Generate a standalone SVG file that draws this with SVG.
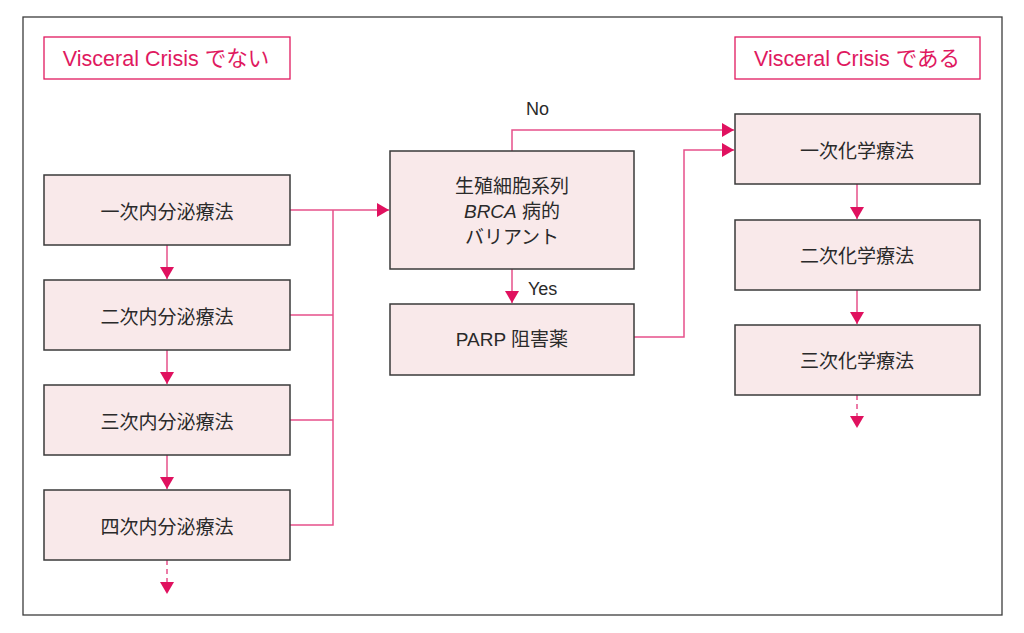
<svg xmlns="http://www.w3.org/2000/svg" width="1024" height="633" viewBox="0 0 1024 633">
<defs>
<style>
.frame{fill:#fff;stroke:#3c3c3c;stroke-width:1.3}
.hdr{fill:#fff;stroke:#e0195f;stroke-width:1.3}
.hdrt{fill:#e0195f;font-family:"Liberation Sans","Noto Sans CJK JP",sans-serif;font-size:21.5px;text-anchor:middle}
.box{fill:#f9e9ea;stroke:#3a3a3a;stroke-width:1.5}
.t{fill:#2a2a2a;font-family:"Liberation Sans","Noto Sans CJK JP",sans-serif;font-size:19px;text-anchor:middle}
.lbl{fill:#2a2a2a;font-family:"Liberation Sans","Noto Sans CJK JP",sans-serif;font-size:18px}
.c{fill:none;stroke:#e6508a;stroke-width:1.5}
.d{fill:none;stroke:#e6508a;stroke-width:1.5;stroke-dasharray:5,4}
.ah{fill:#e0115f}
</style>
<marker id="arr" viewBox="0 0 12 14" refX="12" refY="7" markerWidth="12" markerHeight="14" markerUnits="userSpaceOnUse" orient="auto">
<path d="M0,0 L12,7 L0,14 Z" class="ah"/>
</marker>
</defs>
<rect x="0" y="0" width="1024" height="633" fill="#fff"/>
<rect class="frame" x="23" y="17" width="979" height="598"/>

<g id="hdr-left"><rect class="hdr" x="44" y="37" width="246" height="42"/><text class="hdrt" x="166" y="66">Visceral Crisis でない</text></g>
<g id="hdr-right"><rect class="hdr" x="735" y="37" width="245" height="42"/><text class="hdrt" x="857" y="66">Visceral Crisis である</text></g>

<g id="connectors">
<path class="c" d="M167,245 V279" marker-end="url(#arr)"/>
<path class="c" d="M167,350 V384" marker-end="url(#arr)"/>
<path class="c" d="M167,455 V489" marker-end="url(#arr)"/>
<path class="d" d="M167,560 V582"/>
<path class="ah" d="M160,582 L174,582 L167,594 Z"/>
<path class="c" d="M290,210 H389" marker-end="url(#arr)"/>
<path class="c" d="M290,315 H333 M290,420 H333 M290,525 H333 V210"/>
<path class="c" d="M512,151 V130 H734" marker-end="url(#arr)"/>
<path class="c" d="M512,269 V303" marker-end="url(#arr)"/>
<path class="c" d="M634,337 H684 V150 H734" marker-end="url(#arr)"/>
<path class="c" d="M857,184 V219" marker-end="url(#arr)"/>
<path class="c" d="M857,290 V324" marker-end="url(#arr)"/>
<path class="d" d="M857,395 V416"/>
<path class="ah" d="M850,416 L864,416 L857,428 Z"/>
<text class="lbl" x="526" y="115">No</text>
<text class="lbl" x="528" y="295">Yes</text>
</g>

<g id="n1"><rect class="box" x="44" y="175" width="246" height="70"/><text class="t" x="167" y="219">一次内分泌療法</text></g>
<g id="n2"><rect class="box" x="44" y="280" width="246" height="70"/><text class="t" x="167" y="324">二次内分泌療法</text></g>
<g id="n3"><rect class="box" x="44" y="385" width="246" height="70"/><text class="t" x="167" y="429">三次内分泌療法</text></g>
<g id="n4"><rect class="box" x="44" y="490" width="246" height="70"/><text class="t" x="167" y="534">四次内分泌療法</text></g>

<g id="brca"><rect class="box" x="390" y="151" width="244" height="118"/>
<text class="t" x="512" y="193">生殖細胞系列</text>
<text class="t" x="512" y="218"><tspan font-style="italic">BRCA</tspan> 病的</text>
<text class="t" x="512" y="244">バリアント</text></g>
<g id="parp"><rect class="box" x="390" y="304" width="244" height="71"/><text class="t" x="512" y="346">PARP 阻害薬</text></g>

<g id="r1"><rect class="box" x="735" y="114" width="245" height="70"/><text class="t" x="857" y="158">一次化学療法</text></g>
<g id="r2"><rect class="box" x="735" y="220" width="245" height="70"/><text class="t" x="857" y="263">二次化学療法</text></g>
<g id="r3"><rect class="box" x="735" y="325" width="245" height="70"/><text class="t" x="857" y="368">三次化学療法</text></g>
</svg>
